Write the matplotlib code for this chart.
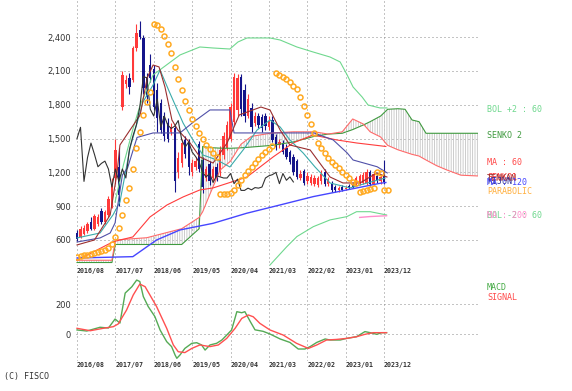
import matplotlib.pyplot as plt
import numpy as np

plt.rcParams["hatch.linewidth"] = 0.6

# monthly candles, index 0 = 2016/08 ... 88 = 2023/12
opens = [660, 630, 650, 680, 760, 700, 740, 860, 760, 820,
         900, 1150, 1250, 1780, 1980, 2040, 2020, 2300, 2460, 2390,
         2050, 2150, 2120, 1930, 1815, 1700, 1640, 1560, 1590, 1200,
         1280, 1490, 1470, 1200, 1250, 1450, 1310, 1150, 1270, 1150,
         1250, 1200, 1350, 1420, 1500, 1650, 1750, 2050, 1930, 1700,
         1770, 1640, 1700, 1690, 1700, 1600, 1665, 1510, 1440, 1460,
         1420, 1380, 1340, 1300, 1150, 1210, 1120, 1110, 1100, 1090,
         1120, 1200, 1100, 1100, 1070, 1040, 1070, 1050, 1080, 1100,
         1090, 1100, 1110, 1105, 1200, 1100, 1170, 1120, 1205]
closes = [610, 700, 710, 740, 700, 810, 800, 760, 850, 960,
          1100, 1400, 1000, 2060, 2020, 1960, 2300, 2440, 2400, 1950,
          1870, 2040, 1780, 1680, 1575, 1520, 1500, 1600, 1120, 1330,
          1460, 1360, 1250, 1280, 1300, 1230, 1070, 1230, 1120, 1230,
          1150, 1400, 1520, 1620, 1780, 2050, 2040, 1760, 1700, 1850,
          1600, 1700, 1620, 1590, 1610, 1660, 1490, 1425, 1470, 1380,
          1340, 1290, 1200, 1160, 1190, 1110, 1170, 1160, 1150, 1150,
          1190, 1100, 1140, 1040, 1040, 1060, 1045, 1065, 1060, 1070,
          1150, 1170, 1180, 1200, 1100, 1190, 1130, 1160, 1115]
highs = [690, 720, 730, 760, 800, 830, 830, 880, 870, 990,
         1150, 1500, 1420, 2100, 2060, 2080, 2320, 2520, 2540, 2420,
         2080, 2250, 2150, 1990, 1850, 1740, 1680, 1640, 1620, 1380,
         1500, 1520, 1500, 1320, 1340, 1480, 1340, 1260, 1300, 1260,
         1280, 1430, 1560, 1660, 1820, 2080, 2070, 2070, 1980, 1900,
         1820, 1740, 1730, 1720, 1730, 1700, 1700, 1540, 1500, 1490,
         1450, 1400, 1360, 1320, 1220, 1230, 1200, 1190, 1180, 1170,
         1220, 1230, 1160, 1120, 1090, 1080, 1085, 1080, 1095, 1115,
         1170, 1190, 1200, 1230, 1220, 1210, 1190, 1180, 1310]
lows = [590, 620, 640, 660, 690, 690, 720, 740, 740, 800,
        880, 1100, 900, 1750, 1950, 1900, 2000, 2280, 2380, 1900,
        1820, 2000, 1750, 1560, 1550, 1480, 1470, 1530, 1030, 1150,
        1250, 1330, 1180, 1170, 1220, 1200, 1020, 1120, 1090, 1120,
        1120, 1170, 1320, 1400, 1480, 1620, 1700, 1700, 1650, 1680,
        1560, 1610, 1590, 1560, 1580, 1580, 1470, 1400, 1420, 1360,
        1320, 1270, 1180, 1140, 1130, 1090, 1100, 1090, 1080, 1070,
        1100, 1080, 1080, 1030, 1030, 1030, 1035, 1040, 1050, 1060,
        1080, 1090, 1100, 1090, 1080, 1090, 1110, 1100, 1100]

# parabolic SAR, one per month (0..89)
sar = [452, 458, 464, 467, 476, 487, 495, 505, 515, 526,
       560, 627, 707, 822, 955, 1062, 1230, 1417, 1559, 1710, 1825, 1914,
       2517, 2508, 2473, 2411, 2340, 2260, 2136, 2029, 1931, 1834, 1754,
       1674, 1612, 1550, 1496, 1443, 1408, 1372, 1337,
       1005, 1008, 1012, 1020, 1044, 1088, 1133, 1177, 1215, 1250, 1285,
       1320, 1354, 1385, 1410, 1430,
       2082, 2065, 2047, 2029, 2002, 1967, 1940, 1869, 1789, 1710, 1630,
       1550, 1461, 1417, 1372, 1328, 1292, 1266, 1239, 1204, 1177, 1150,
       1115, 1106,
       1026, 1035, 1044, 1053, 1062, 1200, 1195, 1040, 1040]

bol_up_x = [10.9, 13.3, 16.1, 18.1, 21.8, 29.5, 35.2, 39, 43.8, 46.1, 48.7, 55.3,
            58.2, 63, 67.6, 72.5, 75.4, 77.4, 79.1, 81.7, 83.4, 86.8, 88.8]
bol_up = [937, 1266, 1594, 1798, 2065, 2242, 2313, 2304, 2295, 2357, 2393, 2393,
          2375, 2313, 2269, 2224, 2180, 2065, 1958, 1869, 1798, 1772, 1772]
bol_dn_x = [55.3, 60.1, 63, 67.7, 72.5, 77.3, 80.1, 84, 88.7]
bol_dn = [378, 540, 630, 718, 778, 807, 851, 851, 822]

ma60_x = [0, 10.4, 16, 20.9, 25.8, 30.4, 35.2, 39, 48.7, 56.2, 61.9, 67.6, 74.4, 80.1, 88.5]
ma60 = [420, 585, 627, 804, 911, 982, 1044, 1062, 1159, 1337, 1461, 1532, 1488, 1461, 1430]
ma120_x = [0, 16, 22.8, 29.5, 39, 48.6, 58.2, 67.7, 77.3, 86.8, 88.5]
ma120 = [440, 452, 600, 689, 748, 837, 911, 985, 1044, 1103, 1110]
ma200_x = [81, 84, 88.7]
ma200 = [800, 808, 815]

senko_x = [0, 10, 11, 20, 30, 35, 36, 38, 41, 44, 47, 50, 56, 62, 68, 72, 76, 79,
           82, 84, 87, 89, 92, 94, 96, 98, 100, 103, 106, 110, 115]
senko1 = [420, 420, 600, 620, 700, 800, 850, 1000, 1220, 1300, 1450, 1520, 1550,
          1560, 1560, 1540, 1560, 1674, 1630, 1560, 1514, 1440, 1400, 1380, 1360,
          1345, 1310, 1260, 1221, 1175, 1168]
senko2 = [400, 400, 560, 560, 560, 700, 1430, 1420, 1415, 1414, 1418, 1425, 1440,
          1470, 1520, 1540, 1547, 1580, 1620, 1650, 1700, 1760, 1765, 1760, 1665,
          1650, 1547, 1547, 1547, 1547, 1547]

tenkan_x = [0, 5, 9.5, 11.5, 12.3, 18.1, 20.1, 21.8, 23.5, 25.2, 27.2, 28.9, 32.4,
            35.2, 39, 43, 46.5, 52.7, 55.3, 58.2, 61, 66.8, 72.5, 76.2, 81.1, 85.9, 88.8]
tenkan = [556, 600, 822, 1203, 1443, 1710, 2038, 2153, 2136, 1958, 1665, 1576, 1461,
          1337, 1283, 1461, 1710, 1780, 1754, 1576, 1443, 1399, 1159, 1106, 1106, 1195, 1159]
kijun_x = [0, 6.6, 9.5, 10.9, 13, 14.5, 17.2, 21.8, 29.5, 33.5, 38.1, 43.8, 45, 55,
           67.9, 73.4, 77.4, 79.1, 86, 88.9]
kijun = [582, 618, 662, 751, 1177, 1240, 1510, 1550, 1550, 1650, 1754, 1754, 1550,
         1550, 1550, 1488, 1373, 1310, 1250, 1195]
teal_x = [0, 6.6, 10.3, 12.3, 15.2, 18.9, 21.8, 23.8, 26.6, 30.4, 33.2, 36.1, 40.1,
          43.8, 47.6, 51.6, 55.3, 58.2, 61, 64.8, 68.2, 72.5, 78.2, 81.1, 88.3]
teal = [618, 662, 822, 937, 1417, 1825, 1976, 2109, 1905, 1638, 1488, 1354, 1310,
        1248, 1399, 1576, 1665, 1603, 1488, 1372, 1248, 1106, 1062, 1088, 1150]

macd_x = [0, 2.8, 6.6, 9, 10.9, 12.3, 13.8, 15.7, 17.1, 18, 19, 20.4, 22.3, 23.8,
          25.7, 27.1, 28.1, 28.6, 29.5, 30.9, 32.9, 34.3, 35.7, 36.7, 38.1, 40,
          41.5, 42.9, 44.3, 45.8, 47.2, 48.1, 49.6, 51, 53.3, 55.3, 58.2, 61, 63.4,
          65.3, 66.8, 68.7, 71.1, 72.5, 75.4, 77.3, 80.1, 82.5, 84, 85.9, 87.3, 88.7]
macd = [27, 20, 45, 40, 100, 73, 273, 315, 360, 350, 250, 183, 117, 27,
        -51, -84, -140, -162, -140, -96, -62, -58, -73, -107, -73, -62,
        -40, -7, 27, 149, 142, 149, 85, 28, 18, 0, -33, -56, -100,
        -100, -84, -56, -33, -40, -40, -29, -18, 16, 9, -2, 9, 9]
signal_x = [0, 3.8, 7.5, 10.4, 11.8, 14.2, 16.1, 18, 19.5, 20.9, 22.8, 25.7, 27.6,
            29, 30.9, 32.9, 35.2, 38.1, 40.5, 42.9, 45.3, 47.2, 49.1, 50.5, 52.4,
            55.3, 59.1, 62.9, 66.3, 68.7, 71.5, 74.4, 77.3, 80.1, 82.5, 84.9, 88.7]
signal = [38, 22, 38, 49, 67, 160, 260, 333, 316, 260, 183, 38, -73,
          -118, -124, -96, -73, -84, -73, -29, 38, 104, 127, 115, 71,
          27, -7, -62, -96, -73, -40, -36, -29, -18, -2, 9, 9]

date_pos = [0, 11, 22, 33, 44, 55, 66, 77, 88]
date_labels = ["2016/08", "2017/07", "2018/06", "2019/05", "2020/04",
               "2021/03", "2022/02", "2023/01", "2023/12"]
price_ticks = [600, 900, 1200, 1500, 1800, 2100, 2400]
macd_ticks = [0, 200]

W, H = 572, 391
fig = plt.figure(figsize=(W / 100, H / 100), dpi=100)
ax = fig.add_axes([76 / W, 1 - 266 / H, 402 / W, 266 / H])
ax2 = fig.add_axes([76 / W, 1 - 361 / H, 402 / W, 85 / H])

grid_kw = dict(color="#8a8a8a", linestyle=(0, (1, 3)), linewidth=0.72)
for a in (ax, ax2):
    a.set_xlim(-0.29, 114.9)
    for s in a.spines.values():
        s.set_visible(False)
    a.tick_params(length=0)
    a.tick_params(axis="y", pad=3.5, labelsize=6, labelcolor="#333333")
    a.set_xticks(date_pos)
    a.set_xticklabels(date_labels, ha="left", fontsize=4.8, fontweight="bold",
                      family="DejaVu Sans Mono", color="#333333")
    a.grid(True, **grid_kw)
    a.set_axisbelow(True)

ax.tick_params(axis="x", pad=1.5)
ax2.tick_params(axis="x", pad=1.0)
ax.set_ylim(369, 2730)
ax.set_yticks(price_ticks)
ax.set_yticklabels([f"{v:,}" for v in price_ticks])
ax2.set_ylim(-180, 387)
ax2.set_yticks(macd_ticks)
ax2.set_yticklabels([str(v) for v in macd_ticks])

# ichimoku cloud
ax.fill_between(senko_x, senko1, senko2, facecolor="none", edgecolor="#c4c4c4",
                hatch="|||||||", linewidth=0, zorder=1)

# candles
x = np.arange(len(closes))
o = np.array(opens)
c = np.array(closes)
cols = np.where(c >= o, "#ff3a3a", "#14148a")
ax.vlines(x, lows, highs, colors=cols, linewidth=0.8, zorder=2)
ax.bar(x, np.maximum(np.abs(c - o), 10), bottom=np.minimum(o, c), width=0.68,
       color=cols, linewidth=0, zorder=2)

lw = 0.8
ax.plot(bol_up_x, bol_up, color="#6fd88e", lw=lw, zorder=3)
ax.plot(bol_dn_x, bol_dn, color="#6fd88e", lw=lw, zorder=3)
ax.plot(senko_x, senko2, color="#3f9a3f", lw=lw, zorder=3)
ax.plot(senko_x, senko1, color="#ff6a6a", lw=lw, zorder=3)
ax.plot(ma60_x, ma60, color="#ff3c3c", lw=lw, zorder=3)
ax.plot(ma120_x, ma120, color="#4646ff", lw=1.0, zorder=3)
ax.plot(ma200_x, ma200, color="#ff8ccc", lw=1.0, zorder=3)
ax.plot(teal_x, teal, color="#3aabab", lw=lw, zorder=3)
ax.plot(kijun_x, kijun, color="#5050a8", lw=lw, zorder=3)
ax.plot(tenkan_x, tenkan, color="#9a2e2e", lw=lw, zorder=3)
ax.plot(x[:len(closes) - 26], closes[26:], color="#333333", lw=lw, zorder=3)
ax.plot(np.arange(len(sar)), sar, "o", mfc="none", mec="#ffaa22", ms=3.6,
        mew=1.1, zorder=4)

ax2.plot(macd_x, macd, color="#55aa55", lw=1.0)
ax2.plot(signal_x, signal, color="#ff5050", lw=1.0)

mono = dict(family="DejaVu Sans Mono", fontsize=6, va="center")


def label(px, py, s, color):
    fig.text(px / W, 1 - py / H, s, color=color, **mono)


# right-hand series names (the source chart prints some on top of each other)
label(487, 110, "BOL +2 : 60", "#6fd88e")
label(487, 135, "SENKO 2", "#3f9a3f")
label(487, 163, "MA : 60", "#ff4a4a")
label(487, 177, "SENKO1", "#ff3030")
label(487, 178, "TENKAN", "#9a2e2e")
label(487, 182, "KIJUN", "#30309a")
label(487, 183, "MA : 120", "#4646ff")
label(487, 191, "PARABOLIC", "#ffb040")
label(487, 216, "BOL:-2 : 60", "#6fd88e")
label(487, 216, "MA : 200", "#ff8ccc")
label(487, 287, "MACD", "#44aa44")
label(487, 298, "SIGNAL", "#ff4a4a")
label(4, 377, "(C) FISCO", "#333333")

fig.savefig("out.png", dpi=100)
